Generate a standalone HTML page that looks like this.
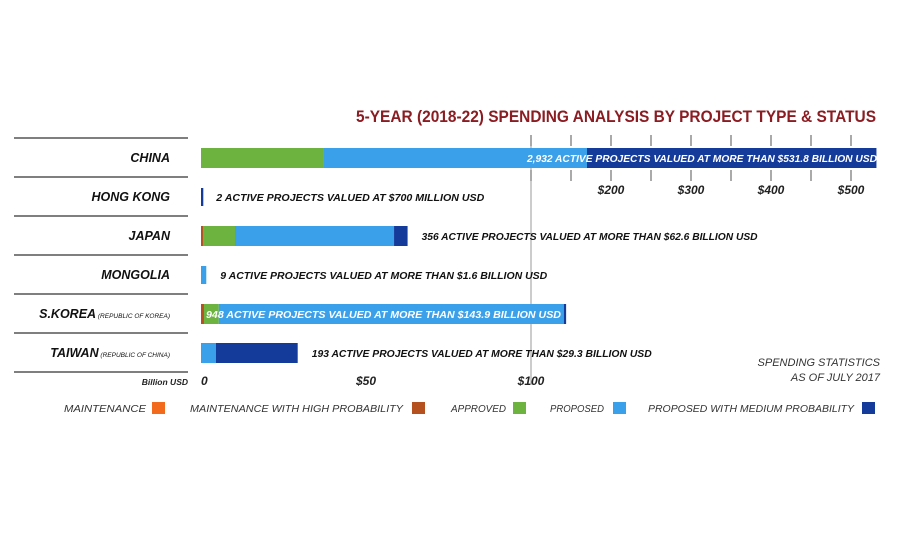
<!DOCTYPE html>
<html><head><meta charset="utf-8"><style>
body{margin:0;background:#fff;width:900px;height:540px;overflow:hidden}
svg text{font-family:"Liberation Sans",sans-serif}
</style></head><body>
<svg id="c" width="900" height="540"></svg>
<script>
const countries=["CHINA","HONG KONG","JAPAN","MONGOLIA","S.KOREA","TAIWAN"];
const subtitles=["","","","","(REPUBLIC OF KOREA)","(REPUBLIC OF CHINA)"];
const maintenance=[0,0,0,0,0,0];
const maintHigh=[0,0,0.6,0,0.9,0];
const approved=[37,0,9.7,0,4.5,0];
const proposed=[133,0,48.2,1.6,135.6,4.5];
const proposedMed=[361.8,0.7,4.1,0,2.9,24.8];
const labels=["2,932 ACTIVE PROJECTS VALUED AT MORE THAN $531.8 BILLION USD","2 ACTIVE PROJECTS VALUED AT $700 MILLION USD","356 ACTIVE PROJECTS VALUED AT MORE THAN $62.6 BILLION USD","9 ACTIVE PROJECTS VALUED AT MORE THAN $1.6 BILLION USD","948 ACTIVE PROJECTS VALUED AT MORE THAN $143.9 BILLION USD","193 ACTIVE PROJECTS VALUED AT MORE THAN $29.3 BILLION USD"];
const lowTicks=[0,50,100];
const lowTickLabels=["0","$50","$100"];
const highTicks=[200,300,400,500];
const highTickLabels=["$200","$300","$400","$500"];
const minorTicks=[100,150,200,250,300,350,400,450,500];
const colors=["#f26b1d","#b5501f","#6cb33f","#3aa0ea","#143a9a"];
const legendNames=["MAINTENANCE","MAINTENANCE WITH HIGH PROBABILITY","APPROVED","PROPOSED","PROPOSED WITH MEDIUM PROBABILITY"];
const labelW=[350,268,336,327,355,340];
const NS="http://www.w3.org/2000/svg";
const svg=document.getElementById('c');
function x(v){return v<=100?201+v*3.3:531+(v-100)*0.8;}
function rowY(i){return 138+i*39;}
function mk(t,a,txt){const e=document.createElementNS(NS,t);for(const k in a)e.setAttribute(k,a[k]);if(txt!==undefined)e.textContent=txt;svg.appendChild(e);return e;}
let e=mk('text',{x:616,y:122,'text-anchor':'middle','font-size':17,'font-weight':'bold',fill:'#8a1c22',textLength:520,lengthAdjust:'spacingAndGlyphs'},"5-YEAR (2018-22) SPENDING ANALYSIS BY PROJECT TYPE & STATUS");

for(let i=0;i<=6;i++){e=mk('line',{x1:14,x2:188,y1:rowY(i),y2:rowY(i),stroke:'#333','stroke-width':1.3});
}
e=mk('line',{x1:x(100),x2:x(100),y1:138,y2:385,stroke:'#999','stroke-width':1});

minorTicks.forEach(t=>{[[135,146],[170,181]].forEach(r=>{e=mk('line',{x1:x(t),x2:x(t),y1:r[0],y2:r[1],stroke:'#555','stroke-width':1});
});});
highTicks.forEach((t,i)=>{e=mk('text',{x:x(t),y:194,'text-anchor':'middle','font-size':12,'font-weight':'bold','font-style':'italic',fill:'#222'},highTickLabels[i]);
});
lowTicks.forEach((t,i)=>{e=mk('text',{x:x(t),y:385,'text-anchor':i==0?'start':'middle','font-size':12,'font-weight':'bold','font-style':'italic',fill:'#222'},lowTickLabels[i]);
});
e=mk('text',{x:188,y:385,'text-anchor':'end','font-size':8.5,'font-weight':'bold','font-style':'italic',fill:'#222'},"Billion USD");

const series=[maintenance,maintHigh,approved,proposed,proposedMed];
countries.forEach((c,i)=>{
  const cy=rowY(i)+20;
  const g=mk('text',{x:170,y:cy+4,'text-anchor':'end','font-size':12.5,'font-weight':'bold','font-style':'italic',fill:'#111'});
  
  const t1=document.createElementNS(NS,'tspan');t1.textContent=c;g.appendChild(t1);
  if(subtitles[i]){const t2=document.createElementNS(NS,'tspan');t2.setAttribute('font-size',6.5);t2.setAttribute('font-weight','normal');t2.textContent=" "+subtitles[i];g.appendChild(t2);}
  let acc=0;const h=(i==1||i==3)?18:20;
  series.forEach((s,k)=>{if(s[i]<=0)return;const x0=x(acc),x1=x(acc+s[i]);acc+=s[i];
    e=mk('rect',{x:x0,y:cy-h/2,width:Math.max(x1-x0,i==1?1.5:0),height:h,fill:colors[k]});
    });
  const end=x(acc);let inside=(i==0||i==4);
  e=mk('text',{x:inside?(i==0?877:206):end+(i==1?13:14),y:cy+4,'text-anchor':i==0?'end':'start','font-size':10.5,'font-weight':'bold','font-style':'italic',fill:inside?'#fff':'#111',textLength:labelW[i],lengthAdjust:'spacingAndGlyphs'},labels[i]);
  
});
e=mk('text',{x:880,y:366,'text-anchor':'end','font-size':11,'font-style':'italic',fill:'#333'},"SPENDING STATISTICS");

e=mk('text',{x:880,y:381,'text-anchor':'end','font-size':11,'font-style':'italic',fill:'#333'},"AS OF JULY 2017");

const lx=[[64,146,152],[190,403,412],[451,506,513],[550,604,613],[648,854,862]];
legendNames.forEach((n,k)=>{
  e=mk('text',{x:lx[k][0],y:412,'font-size':10,'font-style':'italic',fill:'#333',textLength:lx[k][1]-lx[k][0],lengthAdjust:'spacingAndGlyphs'},n);
  
  e=mk('rect',{x:lx[k][2],y:402,width:13,height:12,fill:colors[k]});
  
});
</script>
</body></html>
